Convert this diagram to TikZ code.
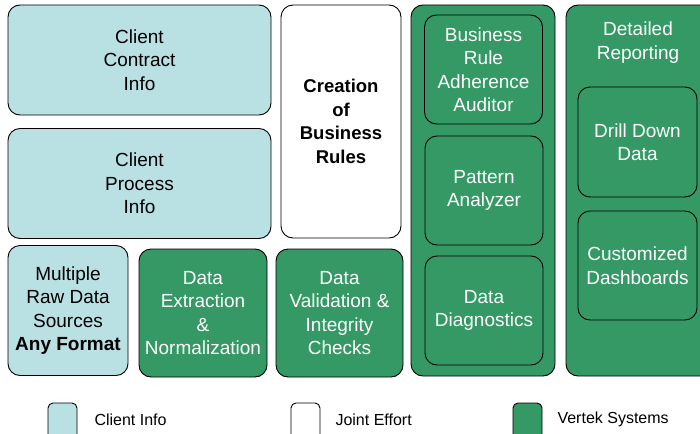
\documentclass[tikz,border=0pt]{standalone}
\usepackage{fontspec}
\setmainfont{Liberation Sans}
\usetikzlibrary{positioning}
\definecolor{clientblue}{RGB}{185,224,226}
\definecolor{vertekgreen}{RGB}{52,153,101}
\tikzset{box/.style = {draw=black, line width=0.9pt, rounded corners=12pt,
                       align=center, inner sep=0pt,
                       font=\fontsize{19}{23.5}\selectfont},
         clientbox/.style = {box, fill=clientblue, text=black},
         jointbox/.style = {box, fill=white, text=black,
                            font=\fontsize{18.5}{23.5}\selectfont\bfseries},
         vertekbox/.style = {box, fill=vertekgreen, text=white},
         keybox/.style = {draw=black, line width=0.9pt, rounded corners=5pt,
                          minimum width=29pt, minimum height=44pt},
         keytext/.style = {anchor=west, font=\fontsize{16}{19}\selectfont}}

\begin{document}
\begin{tikzpicture}[x=1pt, y=-1pt]
    \clip (0, 0) rectangle (700, 433);
    \fill [white] (0, 0) rectangle (700, 433);

    % client side
    \node (contract) at (139.5, 60) [clientbox, minimum width=263pt, minimum height=110pt]
        {Client\\Contract\\Info};
    \node (process) at (139.5, 183.5) [clientbox, minimum width=263pt, minimum height=110pt]
        {Client\\Process\\Info};
    \node (sources) at (68, 310.5) [clientbox, minimum width=120pt, minimum height=130pt]
        {Multiple\\Raw Data\\Sources\\\textbf{Any Format}};

    \node (rules) at (341, 121.5) [jointbox, minimum width=120pt, minimum height=233pt]
        {Creation\\of\\Business\\Rules};

    \node (extraction) at (203, 313) [vertekbox, minimum width=128pt, minimum height=128pt]
        {Data\\Extraction\\\&\\Normalization};
    \node (validation) at (339.5, 313) [vertekbox, minimum width=127pt, minimum height=128pt]
        {Data\\Validation \&\\Integrity\\Checks};

    % analysis column
    \node (analysis) at (483, 190.5) [vertekbox, minimum width=144pt, minimum height=371pt] {};
    \node (auditor) at (483.5, 69.5) [vertekbox, minimum width=118pt, minimum height=109pt]
        {Business\\Rule\\Adherence\\Auditor};
    \node (pattern) at (484, 190.5) [vertekbox, minimum width=118pt, minimum height=109pt]
        {Pattern\\Analyzer};
    \node (diagnostics) at (484, 310.5) [vertekbox, minimum width=118pt, minimum height=109pt]
        {Data\\Diagnostics};

    % reporting column
    \node (reporting) at (639, 190.5) [vertekbox, minimum width=146pt, minimum height=371pt] {};
    \node (reportingtitle) at (638, 42.5) [align=center, text=white,
        font=\fontsize{19}{23.5}\selectfont] {Detailed\\Reporting};
    \node (drilldown) at (637.5, 142) [vertekbox, minimum width=119pt, minimum height=110pt]
        {Drill Down\\Data};
    \node (dashboards) at (637.5, 265.5) [vertekbox, minimum width=119pt, minimum height=109pt]
        {Customized\\Dashboards};

    % legend
    \node (keyclient) at (62.5, 425) [keybox, fill=clientblue] {};
    \node (keyclienttext) at (91, 419.5) [keytext] {Client Info};
    \node (keyjoint) at (305.5, 425) [keybox, fill=white] {};
    \node (keyjointtext) at (332, 419.5) [keytext] {Joint Effort};
    \node (keyvertek) at (527.5, 425) [keybox, fill=vertekgreen] {};
    \node (keyvertektext) at (554, 419.5) [keytext] {Vertek Systems};
\end{tikzpicture}
\end{document}
